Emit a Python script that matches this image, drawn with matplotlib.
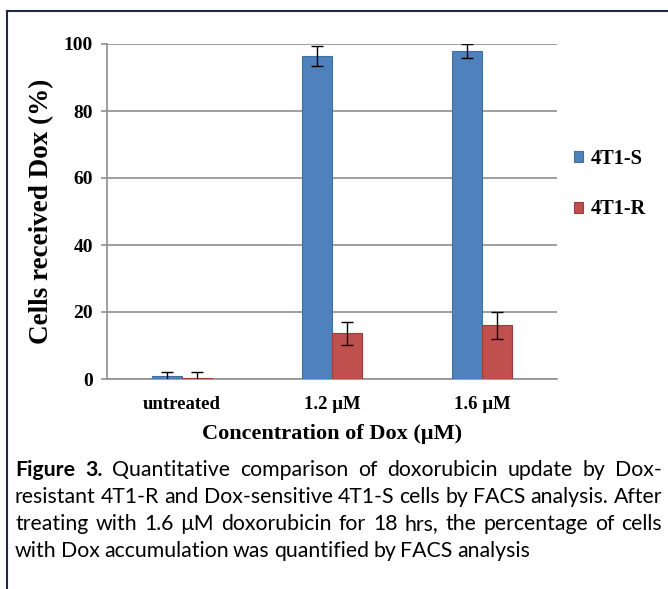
import matplotlib
matplotlib.use("Agg")
import matplotlib.pyplot as plt
import numpy as np

# data
groups = ["untreated", "1.2 \u00b5M", "1.6 \u00b5M"]
s_vals = [0.8, 96.4, 97.9]
s_err = [1.4, 2.9, 2.0]
r_vals = [0.4, 13.6, 16.0]
r_err = [1.8, 3.4, 4.0]
yticks = [0, 20, 40, 60, 80, 100]

caption_bold = "Figure 3."
caption_lines = [
    "Quantitative comparison of doxorubicin update by Dox-",
    "resistant 4T1-R and Dox-sensitive 4T1-S cells by FACS analysis. After",
    "treating with 1.6 \u00b5M doxorubicin for 18 hrs, the percentage of cells",
    "with Dox accumulation was quantified by FACS analysis",
]

W, H = 668, 589
fig = plt.figure(figsize=(W / 100, H / 100), dpi=100)
fig.patch.set_facecolor("white")

serif = "Liberation Serif"
blue = "#4F81BD"
red = "#C0504D"

ax = fig.add_axes([107 / W, 1 - 379 / H, 450 / W, 335 / H])
x = np.arange(len(groups))
w = 0.2
ax.bar(x - w / 2, s_vals, w, color=blue, edgecolor="#41709f", linewidth=0.8,
       label="4T1-S", zorder=3)
ax.bar(x + w / 2, r_vals, w, color=red, edgecolor="#9c3d3a", linewidth=0.8,
       label="4T1-R", zorder=3)
ax.errorbar(x - w / 2, s_vals, yerr=s_err, fmt="none", ecolor="black",
            elinewidth=1, capsize=4, capthick=1, zorder=4)
ax.errorbar(x + w / 2, r_vals, yerr=r_err, fmt="none", ecolor="black",
            elinewidth=1, capsize=4, capthick=1, zorder=4)

ax.set_xlim(-0.5, len(groups) - 0.5)
ax.set_ylim(0, 100)
ax.set_yticks(yticks)
ax.yaxis.grid(True, color="#8f8f8f", linewidth=1.2)
ax.set_axisbelow(True)
for side in ["top", "right"]:
    ax.spines[side].set_visible(False)
ax.spines["left"].set_color("#8f8f8f")
ax.spines["bottom"].set_color("#8f8f8f")
ax.spines["left"].set_linewidth(1.2)
ax.spines["bottom"].set_linewidth(1.2)
ax.tick_params(axis="y", length=4, color="#8f8f8f", pad=6, width=1.2)
ax.tick_params(axis="x", length=0, pad=12)
ax.set_xticks(x)
ax.set_xticklabels(groups)
for lab in ax.get_xticklabels():
    lab.set_fontfamily(serif)
    lab.set_fontweight("bold")
    lab.set_fontsize(13.5)
for lab in ax.get_yticklabels():
    lab.set_fontfamily(serif)
    lab.set_fontweight("bold")
    lab.set_fontsize(14)

ax.set_xlabel("Concentration of Dox (\u00b5M)", fontfamily=serif,
              fontweight="bold", fontsize=16, labelpad=8)
ax.set_ylabel("Cells received Dox (%)", fontfamily=serif,
              fontweight="bold", fontsize=19.5, labelpad=7)

leg = ax.legend(loc="center left", bbox_to_anchor=((574 - 107) / 450, (379 - 184) / 335),
                frameon=False, borderaxespad=0, borderpad=0,
                prop={"family": serif, "weight": "bold", "size": 14.7},
                handlelength=0.45, handleheight=0.45, handletextpad=0.35,
                labelspacing=1.5)

# frame around figure and caption
fig.add_artist(plt.Line2D([7 / W, 7 / W], [0, 1 - 11 / H], color="#1f2a44",
                          linewidth=1.5, transform=fig.transFigure))
fig.add_artist(plt.Line2D([7 / W, 1], [1 - 11 / H, 1 - 11 / H], color="#1f2a44",
                          linewidth=1.5, transform=fig.transFigure))

# caption, justified like the journal layout (last line left aligned)
cap_font = "Lato"
cap_size = 15.3
x0, x1 = 15, 662
renderer = fig.canvas.get_renderer()

for i, line in enumerate(caption_lines):
    y = 1 - (476 + 27 * i) / H
    words = [(wd, False) for wd in line.split(" ")]
    if i == 0:
        words = [(wd, True) for wd in caption_bold.split(" ")] + words
    texts = []
    for wd, bold in words:
        t = fig.text(0, y, wd, fontfamily=cap_font, fontsize=cap_size,
                     fontweight="bold" if bold else "normal",
                     va="baseline", ha="left")
        texts.append(t)
    widths = [t.get_window_extent(renderer).width for t in texts]
    if i < len(caption_lines) - 1:
        gap = (x1 - x0 - sum(widths)) / (len(texts) - 1)
    else:
        gap = 4.3
    pos = x0
    for t, wdt in zip(texts, widths):
        t.set_x(pos / W)
        pos += wdt + gap

fig.savefig("out.png", dpi=100)
